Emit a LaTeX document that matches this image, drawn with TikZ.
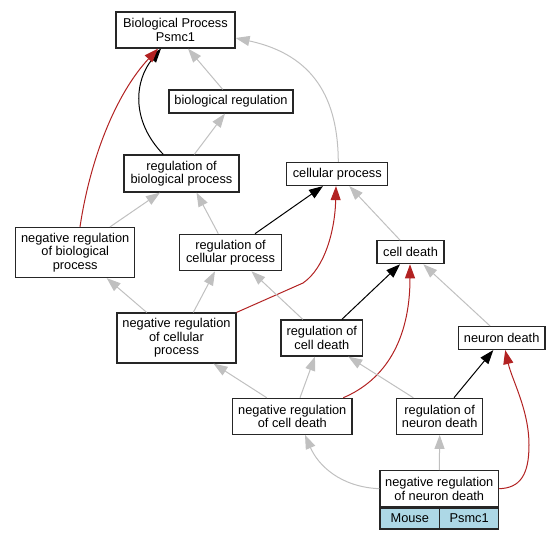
\documentclass[tikz,border=0pt]{standalone}
\usepackage{fontspec}
\setmainfont{Liberation Sans}
\usetikzlibrary{arrows.meta}
\definecolor{edgegrey}{HTML}{C0C0C0}
\definecolor{edgered}{HTML}{B22222}
\definecolor{cellblue}{HTML}{ADD8E6}
\begin{document}
\begin{tikzpicture}[x=1pt,y=-1pt,
  box/.style={draw=black!85, line width=1.2pt, fill=white, inner sep=0pt, align=center,
    font=\fontsize{12.8}{13.5}\selectfont},
  cell/.style={box, fill=cellblue},
  isa/.style={draw=edgegrey, line width=1pt, -{Triangle[length=14pt,width=10pt]}},
  regedge/.style={draw=black, line width=1pt, -{Triangle[length=14pt,width=10pt]}},
  negedge/.style={draw=edgered, line width=1pt, -{Triangle[length=14pt,width=10pt]}}
]
\useasboundingbox (0,0) rectangle (560,539);

% nodes
\node[box, minimum width=119pt, minimum height=36pt] (BP) at (175.5,30) {Biological Process\\Psmc1};
\node[box, minimum width=124pt, minimum height=23pt] (BR) at (231,101.5) {biological regulation};
\node[box, minimum width=115pt, minimum height=37pt] (RBP) at (181.5,173.5) {regulation of\\biological process};
\node[box, minimum width=101pt, minimum height=23pt] (CP) at (337.3,174) {cellular process};
\node[box, minimum width=119pt, minimum height=50pt] (NRBP) at (75.2,252.5) {negative regulation\\of biological\\process};
\node[box, minimum width=101.6pt, minimum height=36.4pt] (RCP) at (230.5,252.5) {regulation of\\cellular process};
\node[box, minimum width=67pt, minimum height=23pt] (CD) at (410.5,252.2) {cell death};
\node[box, minimum width=119pt, minimum height=50pt] (NRCP) at (176.5,338) {negative regulation\\of cellular\\process};
\node[box, minimum width=81.5pt, minimum height=36pt] (RCD) at (321.8,338) {regulation of\\cell death};
\node[box, minimum width=86.5pt, minimum height=23pt] (ND) at (501.7,338) {neuron death};
\node[box, minimum width=119.3pt, minimum height=36pt] (NRCD) at (292.3,416.3) {negative regulation\\of cell death};
\node[box, minimum width=86pt, minimum height=36pt] (RND) at (439.7,416.3) {regulation of\\neuron death};
\node[box, minimum width=118.7pt, minimum height=36pt] (NRND) at (439.3,488.7) {negative regulation\\of neuron death};
\node[cell, minimum width=59.7pt, minimum height=21pt, anchor=north west] (MOUSE) at (NRND.south west) {Mouse};
\node[cell, minimum width=59pt, minimum height=21pt, anchor=north east] (GENE) at (NRND.south east) {Psmc1};

% edges
\draw[isa] ([xshift=-8.3pt]BR.north) -- ([xshift=12.5pt]BP.south);
\draw[regedge] ([xshift=-18.2pt]RBP.north) .. controls (130,120) and (135,80) .. ([xshift=-14.5pt]BP.south);
\draw[isa] ([xshift=12.8pt]RBP.north) -- ([xshift=-6pt]BR.south);
\draw[negedge] ([xshift=4.8pt]NRBP.north) .. controls (90,160) and (115,95) .. ([xshift=-17.5pt]BP.south);
\draw[isa] ([xshift=1pt]CP.north) .. controls (338,100) and (315,55) .. ([yshift=-8pt]BP.east);
\draw[isa] ([xshift=34.8pt]NRBP.north) -- ([xshift=-21.5pt]RBP.south);
\draw[isa] ([xshift=-12.2pt]RCP.north) -- ([xshift=15pt]RBP.south);
\draw[regedge] ([xshift=24.5pt]RCP.north) -- ([xshift=-14.3pt]CP.south);
\draw[negedge] (NRCP.north east) -- (303,283) .. controls (325,268) and (335,230) .. ([xshift=-1.3pt]CP.south);
\draw[isa] ([xshift=-10.5pt]CD.north) -- ([xshift=12pt]CP.south);
\draw[isa] ([xshift=-29.8pt]NRCP.north) -- ([xshift=31.5pt]NRBP.south);
\draw[isa] ([xshift=16.8pt]NRCP.north) -- ([xshift=-15.5pt]RCP.south);
\draw[isa] ([xshift=-19pt]RCD.north) -- ([xshift=21pt]RCP.south);
\draw[regedge] ([xshift=20pt]RCD.north) -- ([xshift=-10.5pt]CD.south);
\draw[isa] ([xshift=-11.7pt]ND.north) -- ([xshift=12.8pt]CD.south);
\draw[isa] ([xshift=-25.6pt]NRCD.north) -- ([xshift=37pt]NRCP.south);
\draw[isa] ([xshift=7.7pt]NRCD.north) -- ([xshift=-6.8pt]RCD.south);
\draw[negedge] ([xshift=51pt]NRCD.north) .. controls (385,380) and (410,340) .. ([xshift=-0.5pt]CD.south);
\draw[isa] ([xshift=-26.4pt]RND.north) -- ([xshift=26.5pt]RCD.south);
\draw[regedge] ([xshift=14.3pt]RND.north) -- ([xshift=-8.4pt]ND.south);
\draw[isa] (NRND.west) .. controls (340,487) and (318,465) .. ([xshift=12.7pt]NRCD.south);
\draw[isa] (NRND.north) -- (RND.south);
\draw[negedge] (NRND.east) .. controls (520,488) and (529,475) .. (529,445) .. controls (529,410) and (512,380) .. ([xshift=3.5pt]ND.south);
\end{tikzpicture}
\end{document}
